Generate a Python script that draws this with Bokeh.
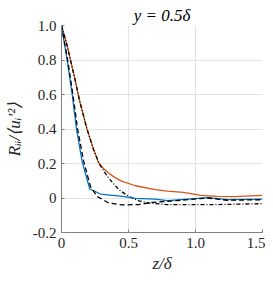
from bokeh.plotting import figure
from bokeh.embed import file_html
from bokeh.resources import INLINE
from bokeh.models import Range1d, FixedTicker

# Orange (solid)
z_orange = [0.0, 0.04, 0.067, 0.10, 0.134, 0.19, 0.24, 0.28, 0.32, 0.353, 0.40, 0.453, 0.552, 0.70, 0.79, 0.91, 1.04, 1.16, 1.29, 1.5]
r_orange = [1.0, 0.89, 0.8, 0.69, 0.567, 0.4, 0.28, 0.2, 0.166, 0.144, 0.118, 0.096, 0.071, 0.048, 0.04, 0.033, 0.015, 0.01, 0.008, 0.015]

# Black dash-dot
z_dashdot = [0.0, 0.04, 0.067, 0.10, 0.134, 0.19, 0.24, 0.28, 0.32, 0.353, 0.428, 0.502, 0.577, 0.65, 0.79, 0.94, 1.16, 1.5]
r_dashdot = [1.0, 0.89, 0.8, 0.69, 0.567, 0.4, 0.28, 0.2, 0.152, 0.115, 0.048, 0.009, -0.016, -0.029, -0.038, -0.038, -0.038, -0.033]

# Blue (solid)
z_blue = [0.0, 0.042, 0.08, 0.112, 0.154, 0.211, 0.291, 0.453, 0.552, 0.70, 0.79, 0.94, 1.09, 1.24, 1.5]
r_blue = [1.0, 0.8, 0.6, 0.4, 0.211, 0.052, 0.023, 0.01, -0.002, -0.006, -0.015, -0.006, 0.002, -0.01, -0.006]

# Black dashed
z_dashed = [0.0, 0.046, 0.085, 0.12, 0.166, 0.216, 0.266, 0.353, 0.453, 0.577, 0.677, 0.79, 0.94, 1.09, 1.24, 1.5]
r_dashed = [1.0, 0.8, 0.6, 0.4, 0.211, 0.067, 0.009, -0.029, -0.04, -0.038, -0.025, -0.019, -0.01, 0.0, -0.013, -0.01]

x_ticks = [0, 0.5, 1.0, 1.5]
x_tick_labels = ["0", "0.5", "1.0", "1.5"]
y_ticks = [-0.2, 0, 0.2, 0.4, 0.6, 0.8, 1.0]
y_tick_labels = ["-0.2", "0", "0.2", "0.4", "0.6", "0.8", "1.0"]

FONT = "serif"

p = figure(width=265, height=275, output_backend="svg", toolbar_location=None,
           x_range=Range1d(0, 1.5), y_range=Range1d(-0.2, 1.0),
           min_border_left=61, min_border_right=3, min_border_top=25, min_border_bottom=42,
           title="y = 0.5δ")
p.title.align = "center"
p.title.text_font = FONT
p.title.text_font_style = "italic"
p.title.text_font_size = "17px"
p.title.text_color = "#000000"
p.title.standoff = 2
p.outline_line_color = None
p.background_fill_color = "white"
p.border_fill_color = "white"

for ax, ticks, labels in ((p.xaxis[0], x_ticks, x_tick_labels), (p.yaxis[0], y_ticks, y_tick_labels)):
    ax.ticker = FixedTicker(ticks=ticks)
    ax.major_label_overrides = {t: l for t, l in zip(ticks, labels)}
    ax.major_label_text_font = FONT
    ax.major_label_text_font_size = "15px"
    ax.major_label_text_color = "#262626"
    ax.axis_line_color = "#808080"
    ax.major_tick_line_color = "#808080"
    ax.major_tick_out = 0
    ax.major_tick_in = 3
    ax.minor_tick_line_color = None
    ax.axis_label_text_font = FONT
    ax.axis_label_text_font_style = "italic"
    ax.axis_label_text_font_size = "17px"
    ax.axis_label_text_color = "#262626"

p.xaxis.axis_label = "z/δ"
p.yaxis.axis_label = "Rᵢᵢ/⟨uᵢ′²⟩"
p.xaxis.axis_label_standoff = 3
p.yaxis.axis_label_standoff = 6

p.grid.grid_line_color = "#e3e3e3"
p.grid.grid_line_width = 1

p.line(z_orange, r_orange, line_color="#D95319", line_width=1.3)
p.line(z_dashdot, r_dashdot, line_color="black", line_width=1.3, line_dash="4 2 1 2")
p.line(z_blue, r_blue, line_color="#0072BD", line_width=1.3)
p.line(z_dashed, r_dashed, line_color="black", line_width=1.3, line_dash="5 3")

open("out.html", "w").write(file_html(p, INLINE))
